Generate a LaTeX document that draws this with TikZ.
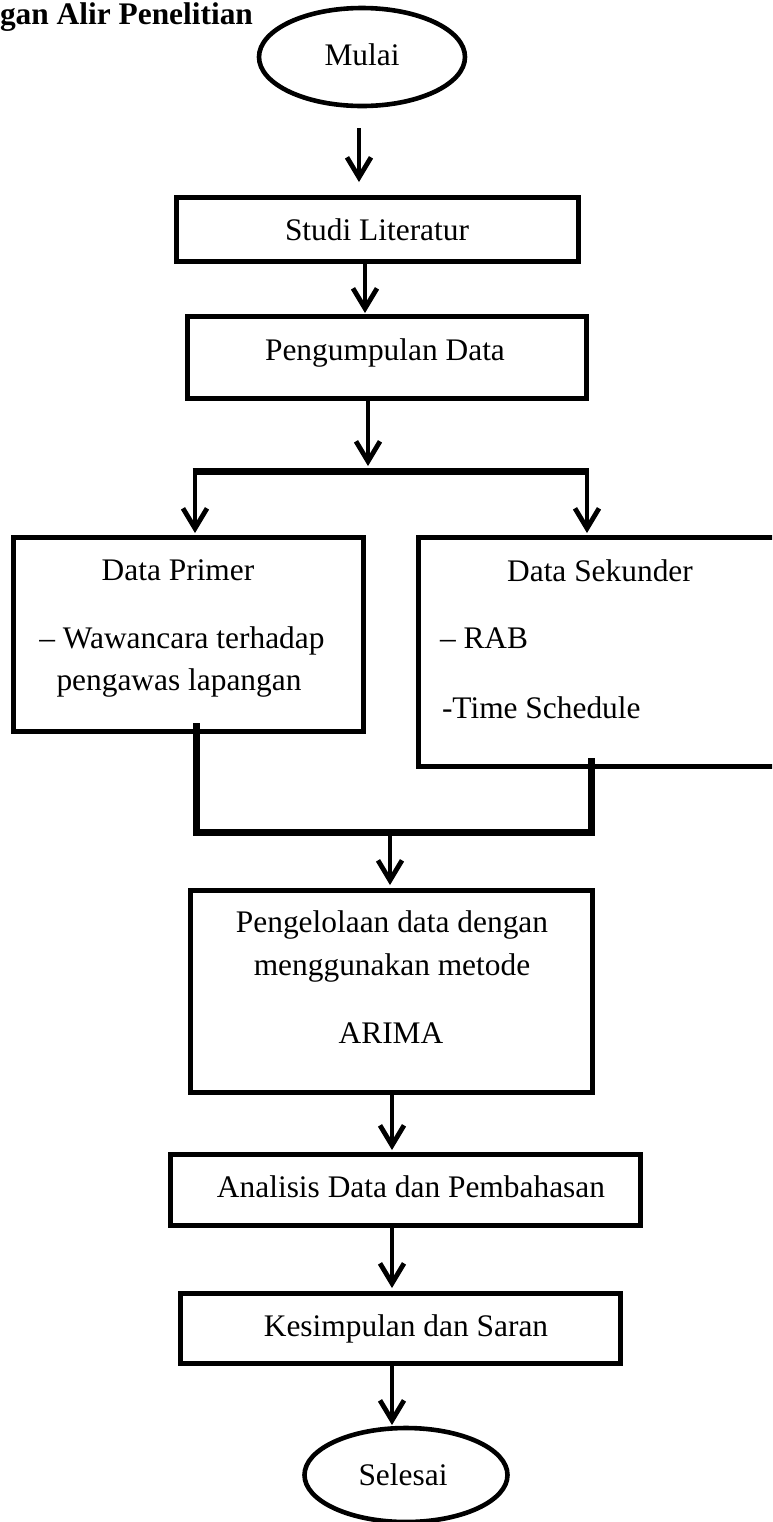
\documentclass[tikz,border=0pt]{standalone}
\usepackage{fontspec}
\setmainfont{Liberation Serif}
\usetikzlibrary{arrows.meta,shapes.geometric}
\begin{document}
\begin{tikzpicture}[x=0.5pt,y=-0.5pt,
  every node/.style={inner sep=0pt, outer sep=0pt},
  lbl/.style={anchor=base, font=\fontsize{15.7}{18}\selectfont},
  lblw/.style={anchor=base west, font=\fontsize{15.7}{18}\selectfont},
  boxline/.style={draw=black, line width=2.5pt, rectangle},
  oval/.style={draw=black, line width=2.3pt, ellipse},
  arr/.style={line width=2.4pt, -{Straight Barb[length=10pt,width=12pt]}},
  joinline/.style={line width=3.5pt, line join=miter, line cap=butt}
]
\useasboundingbox (0,0) rectangle (772,1522);
\clip (0,0) rectangle (772,1522);

% title
\node[anchor=base west, font=\bfseries\fontsize{15.7}{18}\selectfont] (title) at (0,24) {gan Alir Penelitian};

% start
\node[oval, minimum width=103pt, minimum height=49pt] (mulai) at (362,57) {};
\node[lbl] (mulaiT) at (362,65) {Mulai};

% studi literatur
\node[boxline, minimum width=201pt, minimum height=32pt] (studi) at (377,229) {};
\node[lbl] (studiT) at (377,240) {Studi Literatur};

% pengumpulan data
\node[boxline, minimum width=199.5pt, minimum height=41pt] (kumpul) at (386.5,357) {};
\node[lbl] (kumpulT) at (385,360) {Pengumpulan Data};

% data primer
\node[boxline, minimum width=175pt, minimum height=97pt] (primer) at (188,634) {};
\node[lbl] (primerT1) at (178,580) {Data Primer};
\node[lbl] (primerT2) at (182,648) {-- Wawancara terhadap};
\node[lbl] (primerT3) at (179,690) {pengawas lapangan};

% data sekunder
\node[boxline, minimum width=186pt, minimum height=114.5pt] (sekunder) at (604,651.5) {};
\node[lbl] (sekunderT1) at (600,581) {Data Sekunder};
\node[lblw] (sekunderT2) at (440,648) {-- RAB};
\node[lblw] (sekunderT3) at (442,718) {-Time Schedule};

% arima
\node[boxline, minimum width=201pt, minimum height=101pt] (arima) at (391,991) {};
\node[lbl] (arimaT1) at (392,932) {Pengelolaan data dengan};
\node[lbl] (arimaT2) at (392,975) {menggunakan metode};
\node[lbl] (arimaT3) at (391,1043) {ARIMA};

% analisis
\node[boxline, minimum width=235pt, minimum height=35.5pt] (analisis) at (405,1189.5) {};
\node[lbl] (analisisT) at (411,1197) {Analisis Data dan Pembahasan};

% kesimpulan
\node[boxline, minimum width=220pt, minimum height=35pt] (kesimpulan) at (400,1328) {};
\node[lbl] (kesimpulanT) at (406,1336) {Kesimpulan dan Saran};

% end
\node[oval, minimum width=101.5pt, minimum height=47pt] (selesai) at (406,1475) {};
\node[lbl] (selesaiT) at (403,1485) {Selesai};

% connectors
\coordinate (a1s) at (359,128);  \coordinate (a1e) at (359,182);
\draw[arr] (a1s) -- (a1e);
\coordinate (a2e) at (365,313);
\draw[arr] (studi.south -| a2e) -- (a2e);
\coordinate (a3e) at (368,466);
\draw[arr] (kumpul.south -| a3e) -- (a3e);

\coordinate (brL) at (195,471); \coordinate (brR) at (587,471);
\draw[joinline] ([xshift=-1.2pt]brL) -- ([xshift=1.2pt]brR);
\coordinate (aLe) at (195,533); \coordinate (aRe) at (587,533);
\draw[arr] (brL) -- (aLe);
\draw[arr] (brR) -- (aRe);

\coordinate (jL) at (196,723); \coordinate (jR) at (591,758);
\coordinate (jM) at (390,832);
\draw[joinline] (jL) |- (jM) -| (jR);
\coordinate (a4e) at (390,885);
\draw[arr] (jM) -- (a4e);

\coordinate (a5e) at (392,1150);
\draw[arr] (arima.south -| a5e) -- (a5e);
\coordinate (a6e) at (392,1288);
\draw[arr] (analisis.south -| a6e) -- (a6e);
\coordinate (a7e) at (392,1425);
\draw[arr] (kesimpulan.south -| a7e) -- (a7e);
\end{tikzpicture}
\end{document}
